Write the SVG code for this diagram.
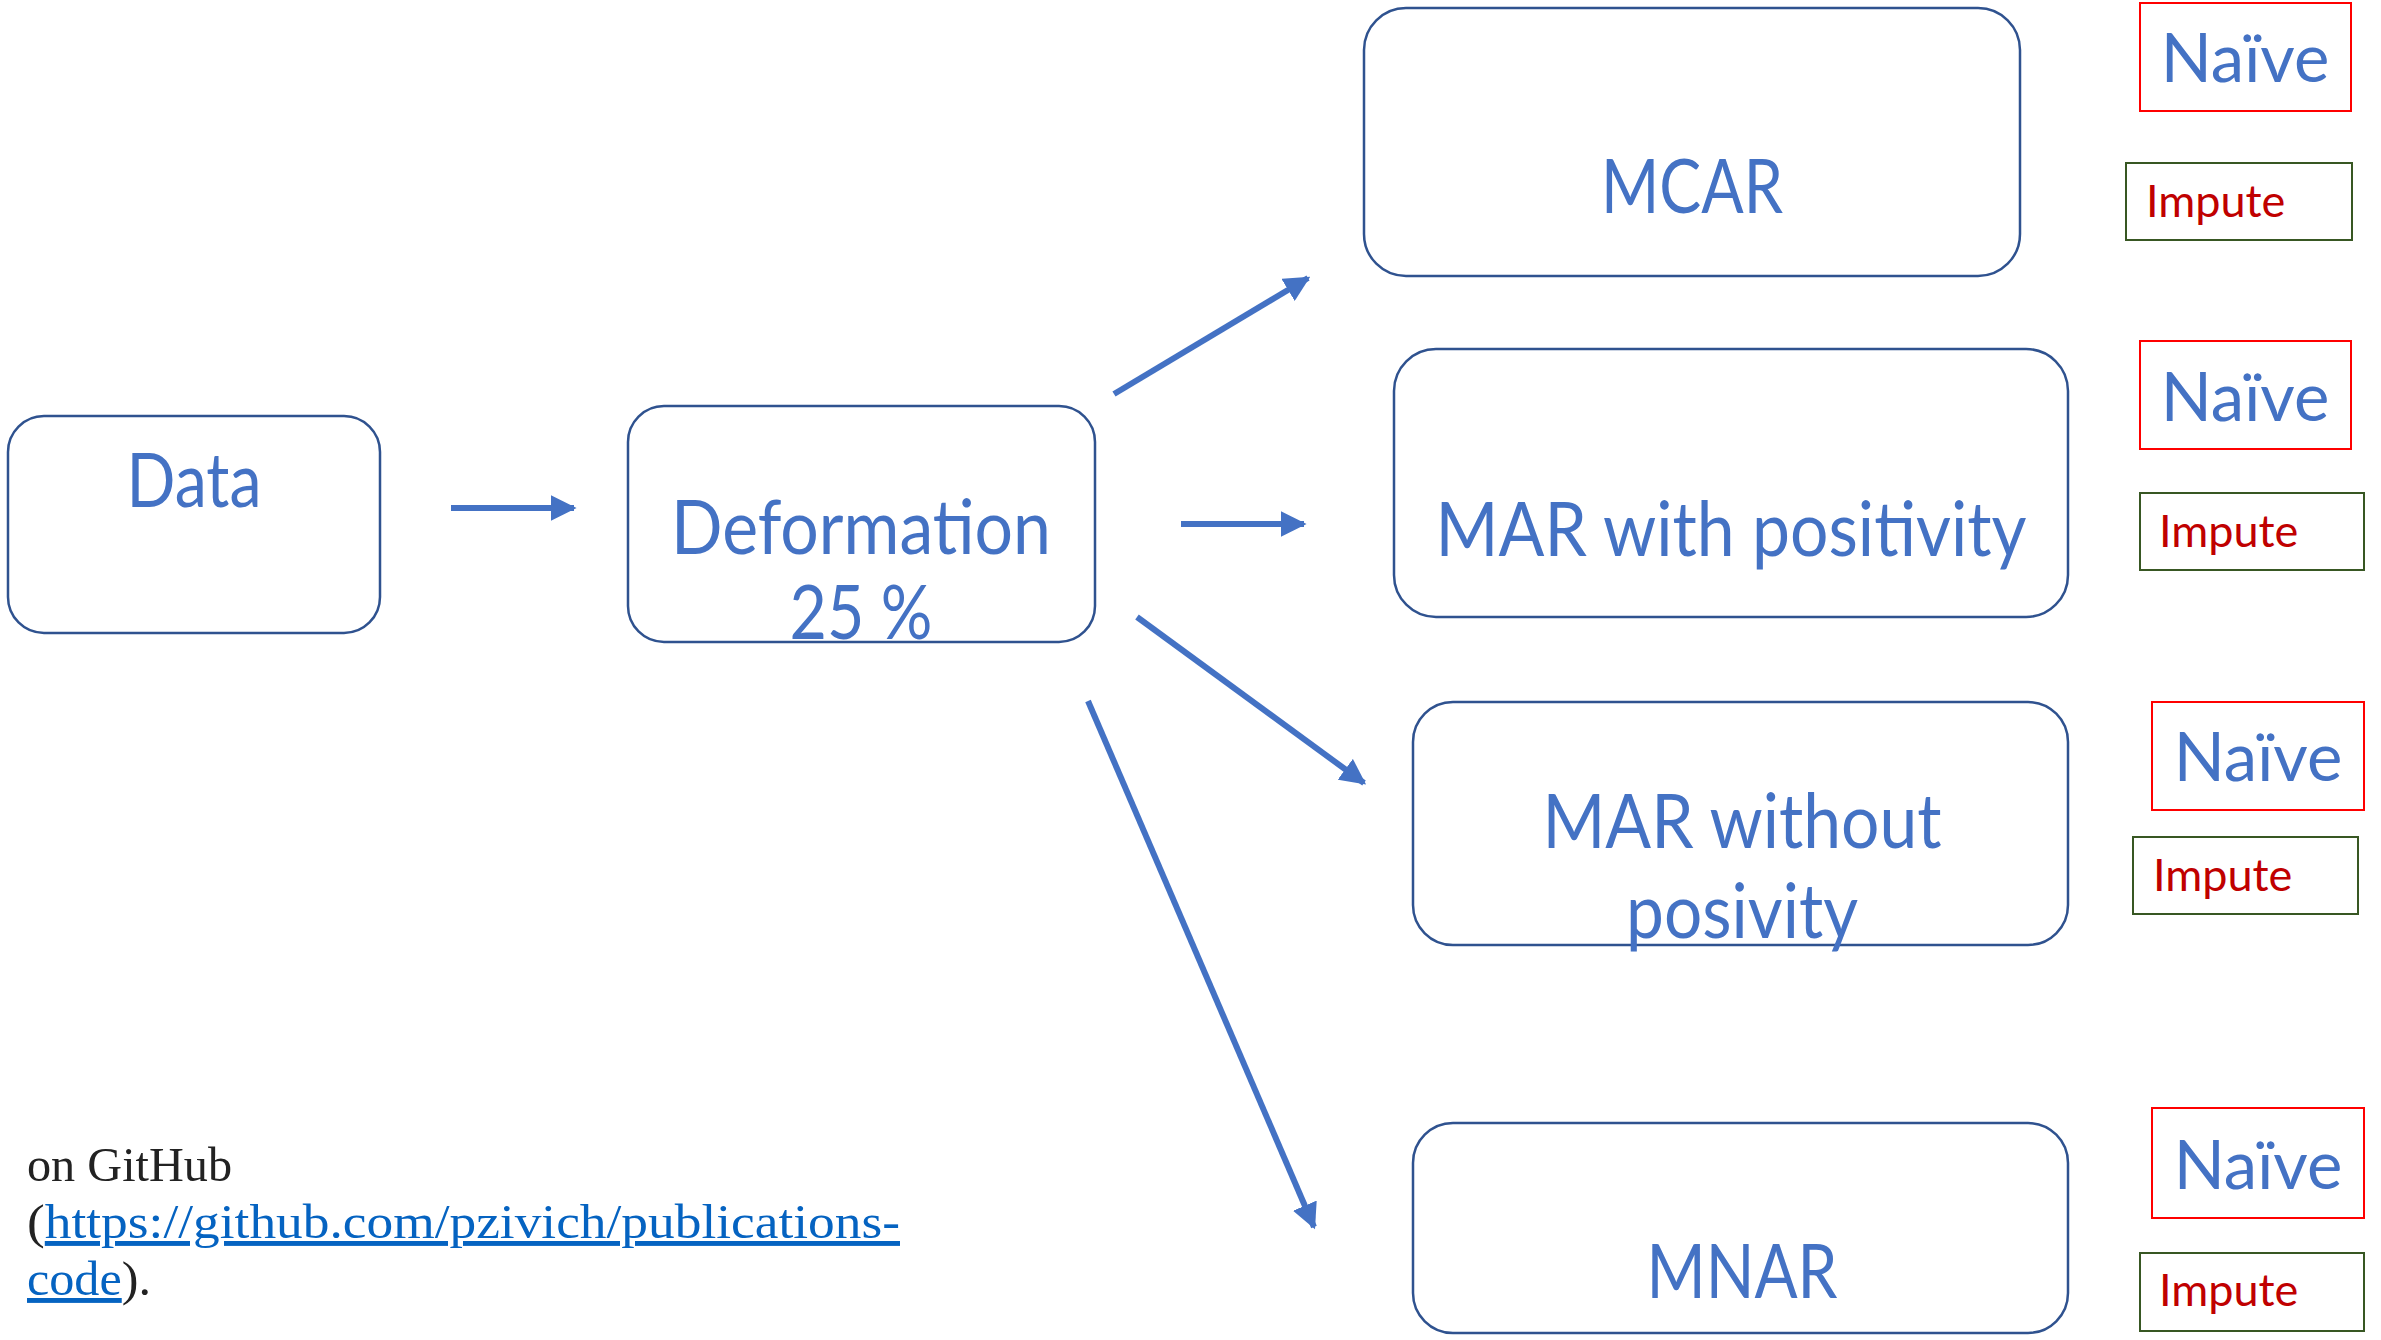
<svg xmlns="http://www.w3.org/2000/svg" width="2381" height="1340" viewBox="0 0 2381 1340">
<defs>
<style>
.box{fill:#fff;stroke:#2F528F;stroke-width:2.5}
.lbl{font-family:Lato,"Open Sans",sans-serif;fill:#4472C4;text-anchor:middle}
.big{font-size:75px}
.nv{fill:#fff;stroke:#FF0000;stroke-width:2}
.im{fill:#fff;stroke:#385723;stroke-width:2}
.nvt{font-family:Lato,"Open Sans",sans-serif;fill:#4472C4;font-size:67px;text-anchor:middle}
.imt{font-family:Lato,"Open Sans",sans-serif;fill:#C00000;font-size:45px}
.conn{stroke:#4472C4;stroke-width:6;fill:none}
.foot{font-family:"Liberation Serif","DejaVu Serif",serif;font-size:49px;fill:#222}
.link{fill:#0563C1;text-decoration:underline}
</style>
<marker id="ah" viewBox="0 0 10 10" refX="9" refY="5" markerWidth="4.3" markerHeight="4.3" orient="auto" markerUnits="strokeWidth">
<path d="M0,0 L10,5 L0,10 Z" fill="#4472C4"/>
</marker>
</defs>
<rect width="2381" height="1340" fill="#fff"/>

<g id="connectors">
<line class="conn" x1="451" y1="508" x2="574" y2="508" marker-end="url(#ah)"/>
<line class="conn" x1="1114" y1="394" x2="1308" y2="278" marker-end="url(#ah)"/>
<line class="conn" x1="1181" y1="524" x2="1304" y2="524" marker-end="url(#ah)"/>
<line class="conn" x1="1137" y1="617" x2="1364" y2="783" marker-end="url(#ah)"/>
<line class="conn" x1="1088" y1="701" x2="1314" y2="1227" marker-end="url(#ah)"/>
</g>

<g id="data">
<rect class="box" x="8" y="416" width="372" height="217" rx="36"/>
<text class="lbl big" x="194" y="507" textLength="135" lengthAdjust="spacingAndGlyphs">Data</text>
</g>
<g id="deformation">
<rect class="box" x="628" y="406" width="467" height="236" rx="36"/>
<text class="lbl big" x="861" y="554" textLength="380" lengthAdjust="spacingAndGlyphs">Deformation</text>
<text class="lbl big" x="861" y="639" textLength="143" lengthAdjust="spacingAndGlyphs">25 %</text>
</g>
<g id="mcar">
<rect class="box" x="1364" y="8" width="656" height="268" rx="42"/>
<text class="lbl big" x="1692" y="213" textLength="182" lengthAdjust="spacingAndGlyphs">MCAR</text>
</g>
<g id="mar-pos">
<rect class="box" x="1394" y="349" width="674" height="268" rx="42"/>
<text class="lbl big" x="1731" y="556" textLength="591" lengthAdjust="spacingAndGlyphs">MAR with positivity</text>
</g>
<g id="mar-nopos">
<rect class="box" x="1413" y="702" width="655" height="243" rx="40"/>
<text class="lbl big" x="1742" y="848" textLength="399" lengthAdjust="spacingAndGlyphs">MAR without</text>
<text class="lbl big" x="1742" y="938" textLength="232" lengthAdjust="spacingAndGlyphs">posivity</text>
</g>
<g id="mnar">
<rect class="box" x="1413" y="1123" width="655" height="210" rx="40"/>
<text class="lbl big" x="1742" y="1298" textLength="191" lengthAdjust="spacingAndGlyphs">MNAR</text>
</g>

<g id="naive-1"><rect class="nv" x="2140" y="3" width="211" height="108"/><text class="nvt" x="2245" y="82">Naïve</text></g>
<g id="impute-1"><rect class="im" x="2126" y="163" width="226" height="77"/><text class="imt" x="2146" y="217">Impute</text></g>
<g id="naive-2"><rect class="nv" x="2140" y="341" width="211" height="108"/><text class="nvt" x="2245" y="421">Naïve</text></g>
<g id="impute-2"><rect class="im" x="2140" y="493" width="224" height="77"/><text class="imt" x="2159" y="547">Impute</text></g>
<g id="naive-3"><rect class="nv" x="2152" y="702" width="212" height="108"/><text class="nvt" x="2258" y="781">Naïve</text></g>
<g id="impute-3"><rect class="im" x="2133" y="837" width="225" height="77"/><text class="imt" x="2153" y="891">Impute</text></g>
<g id="naive-4"><rect class="nv" x="2152" y="1108" width="212" height="110"/><text class="nvt" x="2258" y="1189">Naïve</text></g>
<g id="impute-4"><rect class="im" x="2140" y="1253" width="224" height="78"/><text class="imt" x="2159" y="1306">Impute</text></g>

<g id="footer">
<text class="foot" x="27" y="1181" textLength="205" lengthAdjust="spacingAndGlyphs">on GitHub</text>
<text class="foot" x="27" y="1238" textLength="873" lengthAdjust="spacingAndGlyphs">(<tspan class="link">https://github.com/pzivich/publications-</tspan></text>
<text class="foot" x="27" y="1295" textLength="124" lengthAdjust="spacingAndGlyphs"><tspan class="link">code</tspan>).</text>
</g>
</svg>
